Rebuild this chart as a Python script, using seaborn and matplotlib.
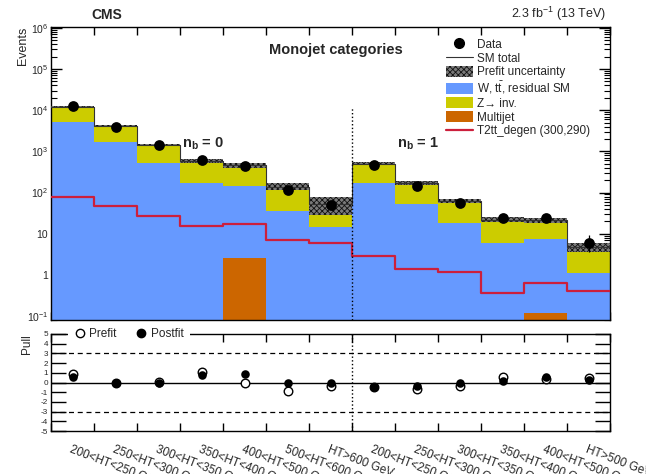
import numpy as np
import pandas as pd
import matplotlib
matplotlib.use("Agg")
import matplotlib.pyplot as plt
import seaborn as sns
from matplotlib.ticker import FixedLocator, LogLocator, FuncFormatter, NullFormatter
from matplotlib.patches import Patch
from matplotlib.lines import Line2D

sns.set_theme(context="paper", style="ticks")
plt.rcParams["font.family"] = ["Liberation Sans", "DejaVu Sans"]
plt.rcParams["mathtext.fontset"] = "custom"
plt.rcParams["mathtext.rm"] = "Liberation Sans"
plt.rcParams["mathtext.bf"] = "Liberation Sans:bold"
plt.rcParams["mathtext.it"] = "Liberation Sans:italic"
plt.rcParams["mathtext.sf"] = "Liberation Sans"
plt.rcParams["hatch.linewidth"] = 0.6
plt.rcParams["axes.edgecolor"] = "black"
plt.rcParams["axes.linewidth"] = 1.0
plt.rcParams["axes.unicode_minus"] = False

# ---------------- data ----------------
nb0_labels = ["200<HT<250 GeV", "250<HT<300 GeV", "300<HT<350 GeV", "350<HT<400 GeV",
              "400<HT<500 GeV", "500<HT<600 GeV", "HT>600 GeV"]
nb1_labels = ["200<HT<250 GeV", "250<HT<300 GeV", "300<HT<350 GeV", "350<HT<400 GeV",
              "400<HT<500 GeV", "HT>500 GeV"]
bin_labels = nb0_labels + nb1_labels

multijet = [0, 0, 0, 0, 2.6, 0, 0, 0, 0, 0, 0, 0.12, 0]
w_ttbar = [5300, 1660, 515, 174, 139.4, 35, 14.8, 174, 54, 18.3, 5.9, 7.48, 1.12]
z_inv = [6700, 2390, 915, 416, 318, 105, 38.2, 326, 114, 43.7, 16.1, 13.4, 3.68]
prefit_unc = [0.06, 0.06, 0.07, 0.12, 0.12, 0.20, 0.45, 0.08, 0.11, 0.11, 0.13, 0.15, 0.27]
data_obs = [12500, 3850, 1400, 630, 445, 114, 49, 460, 147, 55, 24, 23.8, 5.9]
data_err_lo = [112, 62, 37, 25, 21, 10.7, 7, 21, 12, 7.4, 4.9, 4.9, 2.3]
data_err_hi = [112, 62, 37, 25, 21, 10.7, 7, 21, 12, 7.4, 4.9, 4.9, 3.6]
signal = [78, 46, 27, 15.7, 17.6, 7.2, 5.9, 2.84, 1.37, 1.2, 0.36, 0.63, 0.40]
pull_prefit = [0.86, -0.05, 0.03, 1.1, -0.03, -0.9, -0.38, -0.48, -0.69, -0.34, 0.59, 0.41, 0.48]
pull_postfit = [0.55, -0.07, 0.0, 0.76, 0.86, 0.0, -0.1, -0.45, -0.38, -0.1, 0.14, 0.59, 0.24]

c_blue = "#6699ff"
c_yellow = "#cccc00"
c_orange = "#cc6600"
c_red = "#cc1f3c"
c_band = "#7a7a7a"
c_hatch = "#111111"

# ---------------- derived ----------------
nbins = len(bin_labels)
edges = list(range(nbins + 1))
centers = np.arange(nbins) + 0.5
total = np.array(multijet) + np.array(w_ttbar) + np.array(z_inv)
unc = np.array(prefit_unc)
band_lo = total * (1 - unc)
band_hi = total * (1 + unc)
split = len(nb0_labels)

fig = plt.figure(figsize=(6.46, 4.74), dpi=100)
ax = fig.add_axes([51 / 646, 1 - 320 / 474, 559 / 646, 293 / 474])
axp = fig.add_axes([51 / 646, 1 - 431 / 474, 559 / 646, 97 / 474])

# stacked backgrounds
df = pd.DataFrame({
    "bin": np.tile(centers, 3),
    "val": np.concatenate([z_inv, w_ttbar, multijet]),
    "proc": np.repeat(["Z", "W", "MJ"], nbins),
})
sns.histplot(data=df, x="bin", weights="val", hue="proc", hue_order=["Z", "W", "MJ"],
             multiple="stack", bins=edges, element="step", fill=True, alpha=1,
             linewidth=0, palette={"Z": c_yellow, "W": c_blue, "MJ": c_orange},
             ax=ax, legend=False)

# uncertainty band
ax.bar(centers, band_hi - band_lo, bottom=band_lo, width=1.0, color=c_band,
       hatch="xxxxxx", edgecolor=c_hatch, linewidth=0, zorder=3)
# SM total
sns.histplot(x=centers, weights=total, bins=edges, element="step", fill=False,
             color="#333333", linewidth=0.8, ax=ax, zorder=4)
# signal
sns.histplot(x=centers, weights=signal, bins=edges, element="step", fill=False,
             color=c_red, linewidth=1.6, ax=ax, zorder=4)
# data
ax.errorbar(centers, data_obs, yerr=[data_err_lo, data_err_hi], fmt="none",
            ecolor="black", elinewidth=0.9, capsize=0, zorder=5)
sns.scatterplot(x=centers, y=data_obs, color="black", s=60, edgecolor="black",
                linewidth=0, ax=ax, zorder=6)

ax.set_yscale("log")
ax.set_xlim(0, nbins)
ax.set_ylim(0.08, 1.05e6)
ax.plot([split, split], [0.08, 1.1e4], linestyle=":", color="black", lw=1.0, zorder=7)

ax.set_xticks(edges)
ax.tick_params(axis="x", which="major", direction="in", length=6, top=True, bottom=True,
               labelbottom=False, width=1.0, color="black")
ax.yaxis.set_major_locator(LogLocator(base=10, numticks=20))
ax.yaxis.set_minor_locator(LogLocator(base=10, subs=np.arange(2, 10), numticks=20))
ax.yaxis.set_minor_formatter(NullFormatter())


def logfmt(v, pos):
    e = int(round(np.log10(v)))
    if e == 0:
        return "1"
    if e == 1:
        return "10"
    return r"$10^{%d}$" % e


ax.yaxis.set_major_formatter(FuncFormatter(logfmt))
ax.tick_params(axis="y", which="major", direction="in", length=8, left=True, right=True,
               labelsize=7.5, width=1.0, color="black", pad=2)
ax.tick_params(axis="y", which="minor", direction="in", length=4, left=True, right=True,
               width=0.8, color="black")
ax.set_xlabel("")
ax.set_ylabel("Events", loc="top", fontsize=9)
ax.yaxis.set_label_coords(-22 / 559, 1.0)

ax.text(3.05, 1500, r"n$_\mathbf{b}$ = 0", fontsize=10.5, fontweight="bold", va="center", ha="left")
ax.text(8.05, 1500, r"n$_\mathbf{b}$ = 1", fontsize=10.5, fontweight="bold", va="center", ha="left")
ax.text(0.51, 0.92, "Monojet categories", transform=ax.transAxes, fontsize=10.5,
        fontweight="bold", ha="center", va="center")
fig.text(107 / 646, 1 - 15 / 474, "CMS", fontsize=10, fontweight="bold", ha="center", va="center")
fig.text(606 / 646, 1 - 14 / 474, r"2.3 fb$^{-1}$ (13 TeV)", fontsize=9, ha="right", va="center")

handles = [
    Line2D([], [], marker="o", color="black", linestyle="none", markersize=7),
    Line2D([], [], color="#333333", lw=0.8),
    Patch(facecolor=c_band, hatch="xxxxxx", edgecolor=c_hatch, linewidth=0),
    Patch(facecolor=c_blue, linewidth=0),
    Patch(facecolor=c_yellow, linewidth=0),
    Patch(facecolor=c_orange, linewidth=0),
    Line2D([], [], color=c_red, lw=1.6),
]
labels = ["Data", "SM total", "Prefit uncertainty", r"W, t$\bar{\mathrm{t}}$, residual SM",
          "Z\u2192 inv.", "Multijet", "T2tt_degen (300,290)"]
leg = ax.legend(handles, labels, loc="upper right", bbox_to_anchor=(0.978, 0.985), frameon=False,
                fontsize=8.5, labelspacing=0.12, handlelength=2.3, handleheight=1.0,
                handletextpad=0.4, borderaxespad=0.2)

# ---------------- pull panel ----------------
axp.axhline(0, color="black", lw=1.0, zorder=1)
axp.axhline(3, color="black", lw=0.9, ls=(0, (4, 3)), zorder=1)
axp.axhline(-3, color="black", lw=0.9, ls=(0, (4, 3)), zorder=1)
axp.axvline(split, color="black", lw=1.0, ls=":", zorder=1)
sns.scatterplot(x=centers, y=pull_prefit, facecolor="white", edgecolor="black", linewidth=1.0,
                s=38, ax=axp, zorder=3)
sns.scatterplot(x=centers, y=pull_postfit, color="black", edgecolor="black", linewidth=0,
                s=38, ax=axp, zorder=4)
axp.set_xlim(0, nbins)
axp.set_ylim(-5, 5)
axp.set_yticks(np.arange(-5, 6))
axp.tick_params(axis="y", which="major", direction="in", length=11, left=True, right=True,
                labelsize=5.9, width=1.0, color="black", pad=2)
axp.xaxis.set_major_locator(FixedLocator(edges))
axp.xaxis.set_minor_locator(FixedLocator(centers))
axp.xaxis.set_major_formatter(NullFormatter())
axp.set_xticklabels(bin_labels, minor=True)
axp.tick_params(axis="x", which="major", direction="in", length=6, top=True, bottom=True,
                width=1.0, color="black")
axp.tick_params(axis="x", which="minor", length=0, labelsize=8.5, pad=9)
for lab in axp.get_xticklabels(minor=True):
    lab.set_rotation(-21)
    lab.set_ha("left")
    lab.set_va("top")
    lab.set_rotation_mode("anchor")
axp.set_ylabel("Pull", loc="top", fontsize=8.5)
axp.yaxis.set_label_coords(-18 / 559, 1.0)
axp.set_xlabel("")

phandles = [
    Line2D([], [], marker="o", markerfacecolor="white", markeredgecolor="black", linestyle="none",
           markersize=6),
    Line2D([], [], marker="o", color="black", linestyle="none", markersize=6),
]
pleg = axp.legend(phandles, ["Prefit", "Postfit"], loc="center left", bbox_to_anchor=(0.02, 1.0),
                  ncol=2, frameon=True, fontsize=8.5, handletextpad=0.3, columnspacing=1.6,
                  borderpad=0.5, handlelength=1.0, fancybox=False)
pleg.get_frame().set_facecolor("white")
pleg.get_frame().set_edgecolor("none")
pleg.get_frame().set_alpha(1)
pleg.set_zorder(10)

fig.savefig("out.png", dpi=100)
